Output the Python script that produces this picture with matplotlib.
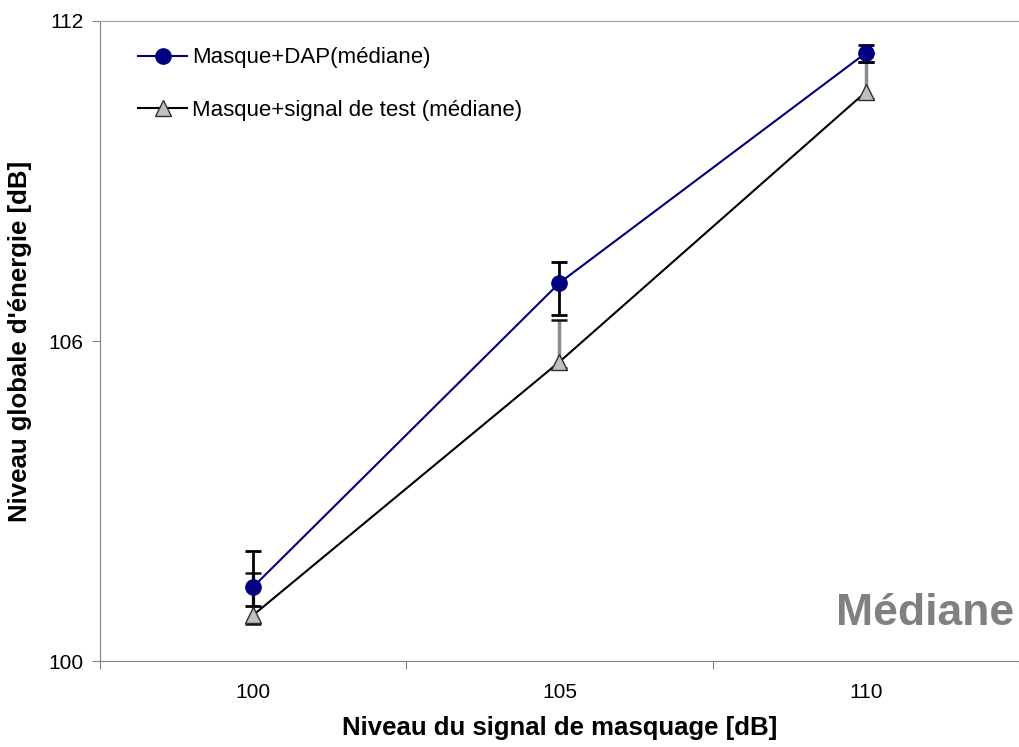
import numpy as np
import matplotlib
matplotlib.use('Agg')
import matplotlib.pyplot as plt

plt.rcParams['font.family'] = ['Liberation Sans', 'DejaVu Sans']

# data (medians with asymmetric error bars)
niveaux = ['100', '105', '110']
dapMed = [101.39, 107.09, 111.40]
dapHaut = [102.06, 107.48, 111.55]
dapBas = [101.03, 106.49, 111.23]
testMed = [100.86, 105.61, 110.67]
testHaut = [101.65, 106.39, 111.23]
testBas = [100.69, 105.49, 110.54]
yTicks = [100, 106, 112]

x = np.arange(len(niveaux))
dapMed = np.array(dapMed)
testMed = np.array(testMed)
dapErr = [dapMed - np.array(dapBas), np.array(dapHaut) - dapMed]
testErr = [testMed - np.array(testBas), np.array(testHaut) - testMed]

fig = plt.figure(figsize=(10.19, 7.47), dpi=100)
ax = fig.add_axes([0.0981, 0.1151, 0.9019, 0.8568])

# error bars first so markers sit on top
eb = ax.errorbar(x, testMed, yerr=testErr, fmt='none', ecolor='#8c8c8c', elinewidth=2.5, capsize=6, capthick=1.8, zorder=2)
for cl in eb[1]:
    cl.set_markeredgecolor('#111111')
eb = ax.errorbar(x, dapMed, yerr=dapErr, fmt='none', ecolor='black', elinewidth=2, capsize=6, capthick=2, zorder=2)

ax.plot(x, dapMed, color='#000080', lw=1.5, marker='o', ms=11, mfc='#000080', mec='#000080', zorder=4, label='Masque+DAP(médiane)')
ax.plot(x, testMed, color='black', lw=1.5, marker='^', ms=11, mfc='#c0c0c0', mec='#303030', mew=1, zorder=3, label='Masque+signal de test (médiane)')

ax.set_xlim(-0.5, 2.5)
ax.set_ylim(100, 112)
ax.set_yticks(yTicks)
ax.set_yticklabels([str(t) for t in yTicks], fontsize=15)
ax.set_xticks([-0.5, 0.5, 1.5, 2.5])
ax.set_xticklabels([])
ax.set_xticks(x, minor=True)
ax.set_xticklabels(niveaux, minor=True, fontsize=15)
ax.tick_params(axis='x', which='minor', length=0, pad=16)
ax.tick_params(axis='x', which='major', length=6, color='#808080', direction='out')
ax.tick_params(axis='y', length=6, color='#808080', direction='out', pad=6)

for s in ['left', 'bottom']:
    ax.spines[s].set_color('#808080')
ax.spines['top'].set_color('#a0a0a0')
ax.spines['right'].set_visible(False)

ax.set_xlabel('Niveau du signal de masquage [dB]', fontsize=18.5, fontweight='bold', labelpad=10)
ax.set_ylabel("Niveau globale d'énergie [dB]", fontsize=18.5, fontweight='bold', labelpad=12)

ax.text(0.995, 0.075, 'Médiane', transform=ax.transAxes, ha='right', va='center', fontsize=32, fontweight='bold', color='#808080')

ax.legend(loc='upper left', bbox_to_anchor=(0.02, 0.99), frameon=False, fontsize=16, labelspacing=1.4, handlelength=2.2, handletextpad=0.2)

fig.savefig('out.png', dpi=100)
